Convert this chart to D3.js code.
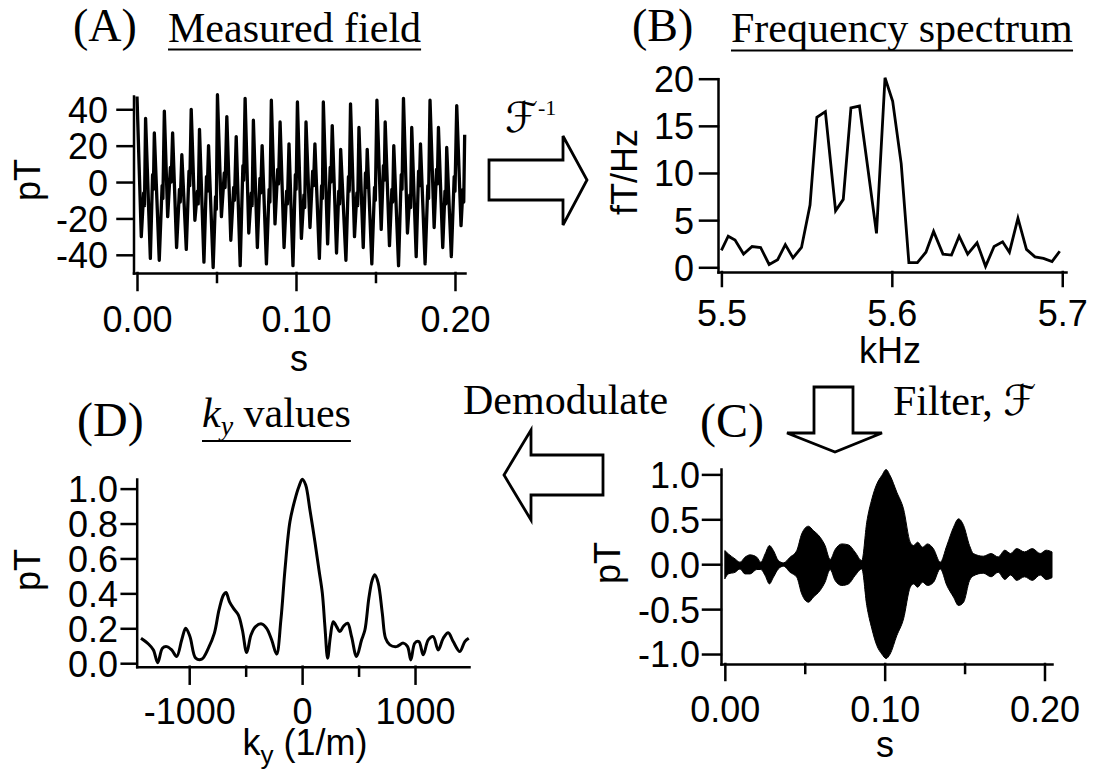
<!DOCTYPE html>
<html>
<head>
<meta charset="utf-8">
<script src="https://cdn.jsdelivr.net/npm/d3@7"></script>
<style>
  body { margin: 0; background: #fff; }
  svg { display: block; }
</style>
</head>
<body>
<svg id="fig" width="1096" height="775"></svg>
<script>
// (A) measured field, one cycle per row: trough, notch, notch, peak (s / pT)
const fieldTime = [0.0000,
  0.0027,0.0042,0.0047,0.0054, 0.0084,0.0098,0.0103,0.0109, 0.0140,0.0158,0.0163,0.0172,
  0.0193,0.0210,0.0215,0.0224, 0.0249,0.0267,0.0272,0.0282, 0.0310,0.0327,0.0332,0.0341,
  0.0364,0.0380,0.0385,0.0393, 0.0421,0.0437,0.0442,0.0450, 0.0479,0.0494,0.0499,0.0506,
  0.0531,0.0549,0.0554,0.0565, 0.0590,0.0608,0.0613,0.0624, 0.0649,0.0666,0.0671,0.0680,
  0.0703,0.0719,0.0724,0.0732, 0.0757,0.0773,0.0778,0.0787, 0.0814,0.0831,0.0836,0.0845,
  0.0868,0.0885,0.0890,0.0900, 0.0925,0.0941,0.0946,0.0956, 0.0981,0.0996,0.1001,0.1009,
  0.1034,0.1050,0.1055,0.1063, 0.1088,0.1105,0.1110,0.1119, 0.1147,0.1161,0.1166,0.1172,
  0.1199,0.1215,0.1220,0.1228, 0.1255,0.1269,0.1274,0.1281, 0.1314,0.1330,0.1335,0.1343,
  0.1368,0.1383,0.1388,0.1396, 0.1423,0.1437,0.1442,0.1448, 0.1477,0.1494,0.1499,0.1509,
  0.1536,0.1550,0.1555,0.1561, 0.1588,0.1603,0.1608,0.1615, 0.1645,0.1662,0.1667,0.1676,
  0.1701,0.1716,0.1721,0.1728, 0.1756,0.1771,0.1776,0.1783, 0.1812,0.1829,0.1834,0.1843,
  0.1869,0.1884,0.1889,0.1896, 0.1923,0.1937,0.1942,0.1948, 0.1977,0.1995,0.2000,0.2011,
  0.2038,0.2050,0.2055,0.2061];
const fieldPT = [47,
  -30,-6,-13,35, -42,4,-4,27, -43,-2,-9,39,
  -19,8,0,27, -36,-4,-11,15, -37,6,-2,40,
  -21,-5,-12,29, -44,3,-5,20, -47,-8,-15,48,
  -19,5,-3,36, -32,-3,-10,25, -46,9,1,46,
  -28,-6,-13,34, -36,2,-6,20, -45,-4,-11,45,
  -23,7,-1,33, -36,-5,-12,21, -46,4,-4,44,
  -31,-7,-14,33, -25,6,-2,21, -42,-2,-9,44,
  -34,8,0,31, -39,-5,-12,18, -43,3,-5,43,
  -30,-6,-13,30, -36,5,-3,18, -45,-3,-10,45,
  -26,9,1,33, -35,-4,-11,20, -46,4,-4,46,
  -28,-7,-14,30, -41,6,-2,21, -45,-2,-9,45,
  -25,7,-1,30, -36,-5,-12,19, -41,3,-5,42,
  -24,-4,-11,26];

// (B) frequency spectrum, kHz / fT/Hz
const specKHz = [5.500,5.504,5.508,5.513,5.518,5.523,5.528,5.533,5.5375,5.542,
  5.547,5.552,5.556,5.561,5.567,5.5715,5.576,5.581,5.586,5.591,
  5.596,5.6005,5.6055,5.610,5.615,5.620,5.6245,5.630,5.635,5.6395,
  5.6445,5.650,5.655,5.660,5.665,5.669,5.674,5.679,5.684,5.689,
  5.694,5.6985];
const specFT = [1.8,3.3,2.9,1.4,2.2,2.1,0.3,0.8,2.4,1.0,
  2.1,6.6,15.9,16.5,6.0,7.2,16.9,17.1,10.4,3.6,
  20.1,17.6,11.0,0.5,0.5,1.6,3.8,1.4,1.3,3.3,
  1.4,2.6,0.1,2.2,2.7,1.6,5.2,1.9,1.1,0.95,
  0.6,1.7];

// (C) filtered signal: envelope of the fast oscillation, s / pT
const filtTime = [0.0000,0.0022,0.0064,0.0095,0.0126,0.0158,0.0200,0.0225,0.0252,0.0279,
  0.0304,0.0335,0.0367,0.0408,0.0450,0.0481,0.0523,0.0554,0.0596,0.0627,
  0.0659,0.0690,0.0732,0.0774,0.0815,0.0857,0.0888,0.0920,0.0951,0.0982,
  0.1009,0.1034,0.1076,0.1118,0.1160,0.1181,0.1206,0.1237,0.1268,0.1306,
  0.1348,0.1389,0.1431,0.1462,0.1494,0.1531,0.1555,0.1617,0.1666,0.1710,
  0.1752,0.1788,0.1826,0.1875,0.1924,0.1973,0.2010,0.2047];
const filtUpper = [0.152,0.115,0.059,0.022,0.078,0.104,0.078,0.022,0.115,0.208,
  0.152,0.041,0.015,0.078,0.152,0.338,0.423,0.375,0.301,0.208,
  0.052,0.163,0.226,0.215,0.134,0.041,0.468,0.727,0.894,0.987,
  1.054,0.987,0.802,0.616,0.245,0.208,0.245,0.189,0.226,0.17,
  0.022,0.208,0.412,0.505,0.431,0.208,0.119,0.089,0.119,0.081,
  0.156,0.119,0.174,0.137,0.174,0.119,0.156,0.137];
const filtLower = [-0.163,-0.108,-0.09,-0.052,-0.108,-0.108,-0.059,-0.059,-0.126,-0.219,
  -0.145,-0.052,-0.022,-0.09,-0.145,-0.33,-0.423,-0.367,-0.293,-0.2,
  -0.059,-0.182,-0.237,-0.219,-0.126,-0.052,-0.46,-0.72,-0.906,-1.0,
  -1.05,-1.0,-0.795,-0.609,-0.256,-0.219,-0.256,-0.2,-0.237,-0.2,
  -0.052,-0.237,-0.367,-0.46,-0.423,-0.182,-0.13,-0.10,-0.14,-0.09,
  -0.17,-0.12,-0.18,-0.14,-0.18,-0.12,-0.17,-0.15];

// (D) ky values, 1/m / pT
const kyPerM = [-1427,-1361,-1317,-1279,-1237,-1199,-1155,-1111,-1066,-1031,
  -993,-942,-889,-830,-777,-736,-697,-674,-644,-609,
  -565,-529,-491,-453,-412,-358,-314,-270,-226,-188,
  -152,-108,-64,-28,2,31,69,113,149,179,
  202,226,250,276,305,335,365,403,438,482,
  527,556,591,621,644,674,710,739,777,836,
  896,934,963,998,1034,1073,1117,1161,1205,1250,
  1294,1338,1397,1441,1476];
const kyPT = [0.143,0.11,0.076,0.003,0.086,0.095,0.076,0.038,0.134,0.2,
  0.152,0.029,0.023,0.086,0.172,0.305,0.39,0.405,0.353,0.315,
  0.277,0.19,0.061,0.162,0.21,0.225,0.2,0.134,0.052,0.248,
  0.535,0.81,0.936,1.012,1.054,1.022,0.879,0.697,0.535,0.401,
  0.21,0.029,0.152,0.238,0.21,0.181,0.21,0.229,0.152,0.038,
  0.134,0.19,0.372,0.477,0.506,0.458,0.287,0.143,0.105,0.095,
  0.115,0.095,0.019,0.115,0.124,0.048,0.134,0.152,0.076,0.143,
  0.175,0.124,0.067,0.124,0.143];

// tick values
const ticksAy = [-40, -20, 0, 20, 40];
const ticksTime = [0, 0.1, 0.2];
const ticksTimeMinor = [0.05, 0.15];
const ticksBy = [0, 5, 10, 15, 20];
const ticksBx = [5.5, 5.6, 5.7];
const ticksCy = [-1, -0.5, 0, 0.5, 1];
const ticksDy = [0, 0.2, 0.4, 0.6, 0.8, 1.0];
const ticksDx = [-1000, 0, 1000];
const ticksDxMinor = [-500, 500];

const svg = d3.select("#fig");
const SANS = "'Liberation Sans', Arial, Helvetica, sans-serif";
const SERIF = "'Liberation Serif', 'Times New Roman', serif";
const SCRIPT = "'DejaVu Serif', 'DejaVu Sans', serif";
const AXIS_W = 2.5;
const TICK_FS = 36;

function panel(c) {
    const x = d3.scaleLinear().domain(c.xDomain).range([c.left, c.right]);
    const y = d3.scaleLinear().domain(c.yDomain).range([c.bottom, c.top]);
    const g = svg.append("g");

    const yAx = g.append("g")
        .attr("transform", `translate(${c.left},0)`)
        .call(d3.axisLeft(y).tickValues(c.yTicks).tickFormat(c.yFormat)
            .tickSize(c.yTickLen).tickSizeOuter(0));
    yAx.selectAll("text")
        .attr("x", c.yLabelRight - c.left)
        .attr("dy", "0.36em");

    const xAx = g.append("g")
        .attr("transform", `translate(0,${c.bottom})`)
        .call(d3.axisBottom(x).tickValues(c.xTicks).tickFormat(c.xFormat)
            .tickSize(c.xTickLen).tickSizeOuter(0));
    xAx.selectAll("text")
        .attr("y", c.xLabelBase - c.bottom)
        .attr("dy", null);

    if (c.xMinor) {
        g.append("g")
            .attr("transform", `translate(0,${c.bottom})`)
            .call(d3.axisBottom(x).tickValues(c.xMinor).tickFormat("")
                .tickSize(c.xMinorLen).tickSizeOuter(0))
            .call(a => a.select(".domain").remove());
    }

    g.selectAll(".domain, .tick line")
        .attr("stroke", "#000")
        .attr("stroke-width", AXIS_W)
        .attr("stroke-linecap", "square");
    g.selectAll(".tick text")
        .attr("fill", "#000")
        .style("font-family", SANS)
        .style("font-size", TICK_FS + "px");

    // axis titles
    const xt = g.append("text")
        .attr("x", c.xTitle.x).attr("y", c.xTitle.y)
        .attr("text-anchor", "middle")
        .style("font-family", SANS).style("font-size", TICK_FS + "px");
    c.xTitle.build(xt);

    g.append("text")
        .attr("transform", `translate(${c.yTitle.x},${c.yTitle.y}) rotate(-90)`)
        .attr("text-anchor", "middle")
        .style("font-family", SANS).style("font-size", TICK_FS + "px")
        .text(c.yTitle.text);

    return { g, x, y };
}

// ---------- (A) Measured field ----------
const pA = panel({
    left: 133.5, right: 465, top: 96, bottom: 273,
    xDomain: [-0.0022, 0.2063], yDomain: [-50, 47.3],
    yTicks: ticksAy, yFormat: d => String(d), yTickLen: 16, yLabelRight: 108,
    xTicks: ticksTime, xFormat: d => d.toFixed(2), xTickLen: 17, xLabelBase: 332,
    xMinor: ticksTimeMinor, xMinorLen: 9,
    xTitle: { x: 299, y: 371, build: t => t.text("s") },
    yTitle: { x: 40, y: 180, text: "pT" }
});
pA.g.append("path")
    .datum(d3.zip(fieldTime, fieldPT))
    .attr("fill", "none").attr("stroke", "#000")
    .attr("stroke-width", 3.3).attr("stroke-linejoin", "round")
    .attr("d", d3.line().x(d => pA.x(d[0])).y(d => pA.y(d[1])));

// ---------- (B) Frequency spectrum ----------
const pB = panel({
    left: 718, right: 1066, top: 78.7, bottom: 272,
    xDomain: [5.498, 5.7022], yDomain: [-0.5, 20],
    yTicks: ticksBy, yFormat: d => String(d), yTickLen: 18, yLabelRight: 694,
    xTicks: ticksBx, xFormat: d => d.toFixed(1), xTickLen: 14, xLabelBase: 326,
    xTitle: { x: 890, y: 363, build: t => t.text("kHz") },
    yTitle: { x: 637, y: 172, text: "fT/Hz" }
});
pB.g.append("path")
    .datum(d3.zip(specKHz, specFT))
    .attr("fill", "none").attr("stroke", "#000")
    .attr("stroke-width", 2.8).attr("stroke-linejoin", "miter")
    .attr("d", d3.line().x(d => pB.x(d[0])).y(d => pB.y(d[1])));

// ---------- (C) Filtered ----------
const pC = panel({
    left: 721, right: 1052, top: 469, bottom: 664,
    xDomain: [-0.0024, 0.2047], yDomain: [-1.111, 1.06],
    yTicks: ticksCy, yFormat: d => d.toFixed(1), yTickLen: 18, yLabelRight: 700,
    xTicks: ticksTime, xFormat: d => d.toFixed(2), xTickLen: 16, xLabelBase: 722,
    xMinor: ticksTimeMinor, xMinorLen: 9,
    xTitle: { x: 885, y: 757, build: t => t.text("s") },
    yTitle: { x: 620, y: 563, text: "pT" }
});
pC.g.append("path")
    .datum(filtTime.map((t, i) => [t, filtLower[i], filtUpper[i]]))
    .attr("fill", "#000").attr("stroke", "#000").attr("stroke-width", 1)
    .attr("d", d3.area().curve(d3.curveMonotoneX)
        .x(d => pC.x(d[0])).y0(d => pC.y(d[1])).y1(d => pC.y(d[2])));

// ---------- (D) ky values ----------
const pD = panel({
    left: 136.7, right: 469, top: 479, bottom: 666.7,
    xDomain: [-1465, 1478], yDomain: [-0.02, 1.055],
    yTicks: ticksDy, yFormat: d => d.toFixed(1), yTickLen: 15, yLabelRight: 118,
    xTicks: ticksDx, xFormat: d => String(d), xTickLen: 17, xLabelBase: 724,
    xMinor: ticksDxMinor, xMinorLen: 9,
    xTitle: { x: 305, y: 755, build: t => {
        t.append("tspan").text("k");
        t.append("tspan").attr("dy", 9).style("font-size", "26px").text("y");
        t.append("tspan").attr("dy", -9).text(" (1/m)");
    } },
    yTitle: { x: 40, y: 570, text: "pT" }
});
pD.g.append("path")
    .datum(d3.zip(kyPerM, kyPT))
    .attr("fill", "none").attr("stroke", "#000")
    .attr("stroke-width", 3).attr("stroke-linejoin", "round")
    .attr("d", d3.line().curve(d3.curveCatmullRom.alpha(0.5))
        .x(d => pD.x(d[0])).y(d => pD.y(d[1])));

// ---------- titles and annotations ----------
function serif(x, y, size) {
    return svg.append("text").attr("x", x).attr("y", y)
        .attr("fill", "#000")
        .style("font-family", SERIF).style("font-size", size + "px");
}
function underline(t, y) {
    const bb = t.node().getBBox();
    svg.append("line")
        .attr("x1", bb.x).attr("x2", bb.x + bb.width)
        .attr("y1", y).attr("y2", y)
        .attr("stroke", "#000").attr("stroke-width", 2.2);
}

serif(73, 41, 46).text("(A)");
underline(serif(168, 42, 42).text("Measured field"), 49.5);
serif(632, 41, 46).text("(B)");
underline(serif(731, 42, 42).text("Frequency spectrum"), 50.5);
serif(77, 436, 48).text("(D)");
const kyTitle = serif(202, 427, 42);
kyTitle.append("tspan").style("font-style", "italic").text("k");
kyTitle.append("tspan").style("font-style", "italic").style("font-size", "28px")
    .attr("dy", 8).text("y");
kyTitle.append("tspan").attr("dy", -8).text(" values");
underline(kyTitle, 441);
serif(700, 437, 48).text("(C)");
serif(463, 414, 42).text("Demodulate");
const filt = serif(893, 415, 42).text("Filter, ");
filt.append("tspan").style("font-family", SCRIPT)
    .style("font-style", "italic").style("font-size", "42px").text("\u2131");

const finv = serif(505, 132, 42);
finv.append("tspan").style("font-family", SCRIPT)
    .style("font-style", "italic").text("\u2131");
finv.append("tspan").attr("dy", -17).style("font-size", "22px").text("-1");

// block arrows
const arrows = [
    [[489, 160], [563, 160], [563, 136], [587, 180], [563, 225], [563, 200], [489, 200]],
    [[814, 387], [853, 387], [853, 433], [882, 433], [835, 452], [787, 433], [814, 433]],
    [[603, 455], [531, 455], [531, 430], [504, 475], [531, 520], [531, 495], [603, 495]]
];
svg.selectAll("polygon.arrow")
    .data(arrows)
    .join("polygon")
    .attr("class", "arrow")
    .attr("points", d => d.map(p => p.join(",")).join(" "))
    .attr("fill", "#fff").attr("stroke", "#000")
    .attr("stroke-width", 2.8).attr("stroke-linejoin", "miter");
</script>
</body>
</html>
